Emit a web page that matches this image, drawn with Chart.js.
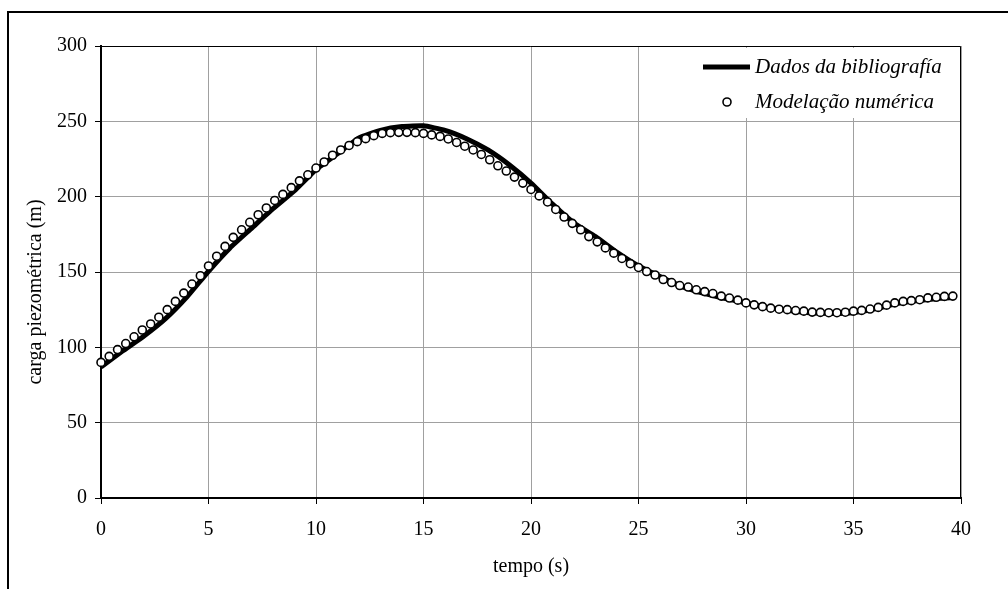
<!DOCTYPE html>
<html>
<head>
<meta charset="utf-8">
<script src="https://cdn.jsdelivr.net/npm/chart.js@4/dist/chart.umd.min.js"></script>
<style>
  body { margin: 0; background: #fff; }
  #wrap { width: 1008px; height: 589px; }
</style>
</head>
<body>
<div id="wrap"><canvas id="grafico"></canvas></div>
<script>
// Dados da bibliografia (linha grossa)
const tempoLinha = [0, 1, 2, 3, 4, 5, 6, 7, 8, 9, 10, 11, 12, 13, 14, 15, 16, 17, 18, 19,
  20, 21, 22, 23, 24, 25, 26, 27, 28, 29, 30, 31, 32, 33, 34, 35, 36, 37, 38, 39, 39.6];
const cargaLinha = [87, 97.5, 107.5, 119, 133.5, 150.5, 166, 179, 192, 204,
  218, 228.5, 239, 244, 246.5, 247, 244, 238.5, 231, 221,
  209, 195, 182.5, 173.5, 163, 154, 147, 140.5, 136, 132.5,
  129.5, 126.5, 124.5, 123, 122.5, 123, 125.5, 129, 131, 132.5, 133];

// Modelação numérica (círculos)
const tempoModelo = [0, 0.38, 0.77, 1.15, 1.54, 1.92, 2.31, 2.69, 3.08, 3.46,
  3.85, 4.23, 4.62, 5.00, 5.38, 5.77, 6.15, 6.54, 6.92, 7.31,
  7.69, 8.08, 8.46, 8.85, 9.23, 9.62, 10.00, 10.38, 10.77, 11.15,
  11.54, 11.92, 12.31, 12.69, 13.08, 13.46, 13.85, 14.23, 14.62, 15.00,
  15.38, 15.77, 16.15, 16.54, 16.92, 17.31, 17.69, 18.08, 18.46, 18.85,
  19.23, 19.62, 20.00, 20.38, 20.77, 21.15, 21.54, 21.92, 22.31, 22.69,
  23.08, 23.46, 23.85, 24.23, 24.62, 25.00, 25.38, 25.77, 26.15, 26.54,
  26.92, 27.31, 27.69, 28.08, 28.46, 28.85, 29.23, 29.62, 30.00, 30.38,
  30.77, 31.15, 31.54, 31.92, 32.31, 32.69, 33.08, 33.46, 33.85, 34.23,
  34.62, 35.00, 35.38, 35.77, 36.15, 36.54, 36.92, 37.31, 37.69, 38.08,
  38.46, 38.85, 39.23, 39.62];
const cargaModelo = [90, 94, 98.5, 102.5, 107, 111.5, 115.5, 120, 125, 130.5,
  136, 142, 147.5, 154, 160.5, 167, 173, 178, 183, 188,
  192.5, 197.5, 201.5, 206, 210.5, 214.5, 219, 223, 227.5, 231,
  234, 236.5, 238.5, 240.5, 242, 242.5, 242.7, 242.7, 242.5, 242,
  241, 240, 238.3, 236, 233.5, 231, 228, 224.5, 220.5, 217,
  213, 209, 204.8, 200.5, 196.5, 191.5, 186.5, 182.3, 178, 173.5,
  170, 166, 162.5, 159, 155.5, 153, 150.3, 148, 145, 143,
  141, 140, 138.2, 137, 135.7, 134, 132.7, 131.3, 129.5, 128.2,
  127, 126, 125.3, 125, 124.4, 124, 123.4, 123.2, 123, 123,
  123.3, 124, 124.5, 125.4, 126.5, 128, 129.5, 130.5, 131, 131.6,
  132.8, 133.2, 133.8, 134];

const serif = '"Liberation Serif", "Times New Roman", serif';

// moldura exterior, contorno da área do gráfico, título do eixo y e legenda
const extras = {
  id: 'extras',
  beforeDraw(chart) {
    const ctx = chart.ctx;
    ctx.save();
    ctx.fillStyle = '#fff';
    ctx.fillRect(0, 0, chart.width, chart.height);
    ctx.strokeStyle = '#000';
    ctx.lineWidth = 2;
    ctx.beginPath();
    ctx.moveTo(8, chart.height + 5);
    ctx.lineTo(8, 12);
    ctx.lineTo(chart.width + 5, 12);
    ctx.stroke();
    ctx.restore();
  },
  beforeDatasetsDraw(chart) {
    const { ctx, chartArea: a } = chart;
    ctx.save();
    ctx.strokeStyle = '#000';
    ctx.lineWidth = 1;
    ctx.beginPath();
    ctx.moveTo(a.left, a.top + 0.5);
    ctx.lineTo(a.right - 0.5, a.top + 0.5);
    ctx.lineTo(a.right - 0.5, a.bottom);
    ctx.stroke();
    ctx.restore();
  },
  afterDraw(chart) {
    const ctx = chart.ctx;
    const ds = chart.data.datasets;
    ctx.save();
    // título do eixo y
    ctx.translate(41, 292);
    ctx.rotate(-Math.PI / 2);
    ctx.font = '20px ' + serif;
    ctx.fillStyle = '#000';
    ctx.textAlign = 'center';
    ctx.textBaseline = 'alphabetic';
    ctx.fillText('carga piezométrica (m)', 0, 0);
    ctx.restore();

    // legenda
    ctx.save();
    ctx.fillStyle = '#fff';
    ctx.fillRect(700, 48, 258, 70);
    ctx.font = 'italic 21px ' + serif;
    ctx.fillStyle = '#000';
    ctx.textBaseline = 'middle';
    ctx.strokeStyle = '#000';
    ctx.lineWidth = ds[1].borderWidth;
    ctx.beginPath();
    ctx.moveTo(703, 67);
    ctx.lineTo(750, 67);
    ctx.stroke();
    ctx.fillText(ds[1].label, 755, 67);
    ctx.lineWidth = ds[0].borderWidth;
    ctx.fillStyle = '#fff';
    ctx.beginPath();
    ctx.arc(727, 102, ds[0].pointRadius, 0, Math.PI * 2);
    ctx.fill();
    ctx.stroke();
    ctx.fillStyle = '#000';
    ctx.fillText(ds[0].label, 755, 102);
    ctx.restore();
  }
};

new Chart(document.getElementById('grafico'), {
  type: 'scatter',
  data: {
    datasets: [
      {
        label: 'Modelação numérica',
        data: tempoModelo.map((t, i) => ({ x: t, y: cargaModelo[i] })),
        pointRadius: 4,
        pointBackgroundColor: '#fff',
        pointBorderColor: '#000',
        borderWidth: 1.6,
        pointBorderWidth: 1.6,
        showLine: false,
        clip: false,
        order: 1
      },
      {
        label: 'Dados da bibliografía',
        data: tempoLinha.map((t, i) => ({ x: t, y: cargaLinha[i] })),
        showLine: true,
        borderColor: '#000',
        borderWidth: 5,
        pointRadius: 0,
        tension: 0.15,
        clip: false,
        order: 2
      }
    ]
  },
  options: {
    responsive: true,
    maintainAspectRatio: false,
    animation: false,
    events: [],
    layout: { padding: { top: 46, right: 47, left: 0, bottom: 0 } },
    plugins: {
      legend: { display: false },
      tooltip: { enabled: false }
    },
    scales: {
      x: {
        type: 'linear',
        min: 0,
        max: 40,
        ticks: { stepSize: 5, color: '#000', padding: 14, maxRotation: 0, font: { family: serif, size: 20 } },
        grid: { color: '#a0a0a0', lineWidth: 1, tickLength: 6, tickColor: '#000' },
        border: { color: '#000', width: 2 },
        title: { display: true, text: 'tempo (s)', color: '#000', font: { family: serif, size: 20 }, padding: { top: 0, bottom: 10 } },
        afterFit(scale) { scale.height = 91; }
      },
      y: {
        min: 0,
        max: 300,
        ticks: { stepSize: 50, color: '#000', padding: 8, font: { family: serif, size: 20 } },
        grid: { color: '#a0a0a0', lineWidth: 1, tickLength: 6, tickColor: '#000' },
        border: { color: '#000', width: 2 },
        afterFit(scale) { scale.width = 101; }
      }
    }
  },
  plugins: [extras]
});
</script>
</body>
</html>
